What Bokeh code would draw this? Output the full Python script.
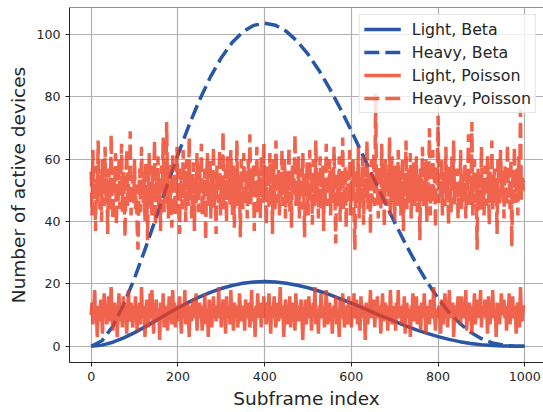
from bokeh.plotting import figure
from bokeh.models import Range1d, FixedTicker, Span, Legend, LegendItem
from bokeh.embed import file_html
from bokeh.resources import INLINE

# ---------------- data ----------------
subframe_beta = list(range(0, 1001, 25))
light_beta = [0.0, 0.35, 1.29, 2.67, 4.37, 6.28, 8.29, 10.32, 12.29, 14.14,
              15.82, 17.29, 18.52, 19.49, 20.19, 20.60, 20.74, 20.60, 20.21, 19.59,
              18.75, 17.72, 16.54, 15.23, 13.82, 12.36, 10.87, 9.38, 7.94, 6.56,
              5.27, 4.11, 3.07, 2.19, 1.46, 0.90, 0.49, 0.22, 0.07, 0.01, 0.0]
heavy_beta = [0.0, 1.74, 6.43, 13.36, 21.87, 31.40, 41.45, 51.59, 61.44, 70.70,
              79.10, 86.46, 92.61, 97.46, 100.93, 103.00, 103.68, 103.01, 101.07, 97.95,
              93.75, 88.62, 82.70, 76.14, 69.12, 61.80, 54.34, 46.92, 39.69, 32.80,
              26.37, 20.53, 15.36, 10.94, 7.32, 4.49, 2.43, 1.08, 0.34, 0.04, 0.0]

light_poisson = [
    10, 14, 7, 12, 18, 9, 11, 3, 13, 10, 8, 15, 11, 4, 12, 17, 9, 13, 7, 10, 16, 8, 12, 19, 10,
    5, 11, 14, 9, 13, 3, 10, 17, 8, 12, 11, 6, 16, 10, 13, 9, 4, 12, 18, 8, 11, 14, 10, 6, 13,
    9, 16, 11, 5, 12, 10, 14, 7, 19, 11, 9, 13, 3, 10, 15, 12, 6, 11, 17, 9, 18, 10, 4, 13, 11,
    15, 8, 12, 10, 2, 14, 11, 9, 17, 6, 12, 10, 13, 5, 11, 16, 9, 12, 7, 18, 10, 14, 6, 11, 13,
    8, 12, 16, 10, 4, 13, 9, 11, 18, 7, 12, 14, 10, 3, 13, 11, 8, 15, 12, 9, 10, 17, 5, 12, 11,
    14, 9, 11, 5, 13, 10, 17, 7, 12, 11, 3, 15, 10, 13, 6, 12, 16, 9, 11, 8, 13, 10, 19, 9, 12,
    6, 11, 15, 10, 12, 4, 16, 9, 11, 13, 7, 18, 10, 12, 5, 14, 11, 9, 13, 6, 10, 17, 12, 8, 11,
    13, 10, 5, 15, 11, 9, 14, 12, 6, 10, 18, 8, 12, 11, 3, 13, 10, 17, 9, 12, 14, 6, 11, 10, 16,
    9, 12, 7, 14, 11, 17, 10, 4, 13, 9, 12, 16, 10, 6, 14, 11, 8, 12, 19, 9, 11, 13, 3, 10, 15,
    11, 7, 13, 10, 16, 6, 12, 9, 14, 11, 5, 17, 10, 12, 8, 13, 11, 15, 9, 2, 12, 10, 15, 7, 13,
    10, 16, 9, 12, 5, 11, 14, 10, 19, 7, 12, 11, 4, 13, 10, 17, 9, 11, 13, 6, 12, 18, 10, 7, 11,
    14, 9, 12, 4, 11, 13, 10, 16, 7, 12, 10, 3, 15, 11, 9, 17, 12, 6, 10, 13, 11, 7, 16, 10, 12,
    6, 13, 10, 17, 9, 11, 15, 7, 12, 10, 5, 16, 11, 13, 9, 12, 2, 14, 10, 7, 13, 11, 18, 9, 12,
    10, 15, 6, 12, 11, 16, 9, 13, 10, 4, 12, 17, 8, 11, 14, 10, 13, 5, 12, 9, 18, 11, 7, 13, 10,
    12, 5, 14, 10, 18, 9, 11, 13, 7, 12, 10, 16, 4, 11, 14, 9, 12, 10, 3, 13, 11, 17, 8, 12, 10,
    16, 7, 11, 13, 10, 5, 14, 12, 9, 17, 11, 4, 13, 10, 12, 7, 15, 11, 9, 13, 19, 10, 5, 12, 11,
    9, 13, 10, 4, 15, 11, 7, 12, 17, 10, 13, 6, 11, 18, 9, 12, 10, 14, 3, 11, 13, 8, 12, 16, 10,
    12, 7, 16, 11, 9, 13, 10, 18, 5, 12, 11, 14, 8, 10, 4, 13, 12, 17, 7, 11, 10, 15, 9, 12, 18,
    6, 11, 13, 10, 15, 9, 12, 4, 16, 11, 7, 13, 10, 18, 9, 12, 11, 3, 14, 10, 13, 7, 12, 17, 11,
    10, 15, 9, 12, 5, 13, 11, 17, 7, 12, 10, 16, 9, 11, 13, 4, 12, 14, 10, 6, 19, 11, 8, 13, 12]
heavy_poisson = [
    56, 42, 63, 49, 53, 37, 58, 46, 66, 51, 44, 55, 40, 60, 50, 45, 64, 48, 54, 36, 57, 52, 44, 68, 49,
    41, 55, 50, 62, 39, 53, 46, 60, 44, 51, 65, 43, 56, 49, 35, 54, 63, 45, 52, 48, 69, 42, 55, 50, 46,
    60, 44, 52, 38, 31, 49, 57, 43, 64, 51, 46, 56, 40, 59, 50, 34, 53, 62, 45, 52, 42, 58, 49, 66, 39,
    54, 47, 61, 44, 52, 37, 58, 50, 67, 43, 55, 46, 72, 51, 41, 59, 45, 53, 38, 62, 49, 56, 42, 51, 64,
    46, 53, 36, 57, 50, 44, 63, 48, 54, 40, 60, 51, 45, 67, 49, 55, 41, 52, 59, 37, 54, 46, 62, 50, 43,
    58, 49, 65, 42, 52, 47, 57, 34, 53, 62, 45, 51, 60, 41, 55, 49, 64, 44, 52, 36, 58, 50, 46, 63, 42,
    53, 47, 69, 44, 51, 57, 40, 61, 49, 54, 45, 63, 50, 42, 58, 38, 53, 47, 66, 45, 55, 51, 35, 60, 49,
    44, 62, 52, 46, 56, 41, 60, 50, 68, 45, 53, 48, 58, 37, 54, 47, 64, 43, 52, 57, 41, 61, 50, 46, 65,
    47, 54, 39, 58, 51, 44, 62, 49, 55, 36, 60, 52, 44, 66, 50, 46, 57, 42, 53, 48, 63, 45, 52, 60, 41,
    56, 50, 46, 64, 43, 53, 38, 58, 49, 54, 68, 45, 52, 47, 61, 41, 57, 50, 44, 62, 51, 35, 55, 48, 59,
    42, 52, 63, 46, 54, 39, 60, 50, 45, 66, 49, 56, 41, 52, 61, 44, 51, 58, 37, 54, 47, 65, 45, 53, 50,
    60, 42, 51, 57, 46, 64, 49, 33, 55, 50, 45, 61, 40, 53, 47, 67, 44, 52, 58, 38, 56, 50, 46, 63, 42,
    53, 48, 60, 44, 31, 51, 57, 46, 64, 41, 54, 50, 45, 61, 39, 52, 58, 47, 66, 44, 51, 56, 36, 60, 46,
    52, 62, 45, 81, 49, 55, 41, 58, 50, 44, 65, 47, 53, 38, 60, 51, 45, 56, 48, 67, 42, 52, 61, 46, 54,
    40, 58, 50, 45, 63, 47, 56, 42, 52, 60, 37, 54, 48, 66, 44, 51, 57, 46, 62, 41, 53, 50, 59, 45, 52,
    61, 43, 51, 55, 34, 57, 48, 64, 45, 53, 47, 60, 40, 56, 50, 70, 42, 52, 46, 63, 49, 55, 38, 58, 51,
    74, 46, 53, 48, 60, 42, 56, 50, 45, 64, 47, 54, 39, 58, 51, 43, 61, 50, 66, 45, 53, 47, 57, 41, 52,
    48, 63, 44, 55, 51, 46, 59, 41, 56, 50, 68, 45, 52, 47, 72, 42, 53, 60, 46, 51, 31, 57, 48, 54, 43,
    64, 47, 53, 42, 58, 50, 45, 61, 52, 39, 56, 48, 66, 44, 51, 57, 46, 54, 36, 60, 50, 45, 63, 53, 47,
    56, 41, 58, 50, 45, 65, 48, 53, 44, 60, 32, 54, 47, 64, 46, 52, 57, 42, 61, 51, 76, 47, 55, 50, 53]
subframe_light = list(range(0, 2 * len(light_poisson), 2))
subframe_heavy = list(range(0, 2 * len(heavy_poisson), 2))

x_ticks = [0, 200, 400, 600, 800, 1000]
y_ticks = [0, 20, 40, 60, 80, 100]
series_labels = ["Light, Beta", "Heavy, Beta", "Light, Poisson", "Heavy, Poisson"]

# ---------------- style ----------------
BLUE = "#2a56a6"
RED = "#ec3d22"
TXT = "#262626"
FONT = "DejaVu Sans"
Y_START, Y_END = -5.23, 108.73

p = figure(width=543, height=412, output_backend="svg", toolbar_location=None,
           x_range=Range1d(-50.05, 1043.1), y_range=Range1d(Y_START, Y_END),
           min_border_left=69, min_border_right=0, min_border_top=7, min_border_bottom=50)
p.outline_line_color = None
p.background_fill_color = "white"

r1 = p.line(subframe_beta, light_beta, line_color=BLUE, line_width=3.5)
r2 = p.line(subframe_beta, heavy_beta, line_color=BLUE, line_width=3.5, line_dash="15 6")
r3 = p.line(subframe_light, light_poisson, line_color=RED, line_alpha=0.8, line_width=3.5)
r4 = p.line(subframe_heavy, heavy_poisson, line_color=RED, line_alpha=0.8, line_width=3.5,
            line_dash="15 6")

p.add_layout(Span(location=Y_END, dimension="width", line_color=TXT, line_width=1))

for ax, ticks in ((p.xaxis, x_ticks), (p.yaxis, y_ticks)):
    ax.ticker = FixedTicker(ticks=ticks)
    ax.minor_tick_line_color = None
    ax.major_tick_in = 0
    ax.major_tick_out = 4
    ax.major_tick_line_color = TXT
    ax.axis_line_color = TXT
    ax.major_label_text_font = FONT
    ax.major_label_text_font_size = "12.6px"
    ax.major_label_text_color = TXT
    ax.major_label_standoff = 5
    ax.axis_label_text_font = FONT
    ax.axis_label_text_font_size = "18.5px"
    ax.axis_label_text_font_style = "normal"
    ax.axis_label_text_color = TXT

p.xaxis.axis_label = "Subframe index"
p.yaxis.axis_label = "Number of active devices"
p.xaxis.axis_label_standoff = 4
p.yaxis.axis_label_standoff = 4

p.xgrid.ticker = FixedTicker(ticks=x_ticks)
p.ygrid.ticker = FixedTicker(ticks=y_ticks)
for g in (p.xgrid, p.ygrid):
    g.grid_line_color = "#b0b0b0"
    g.grid_line_width = 1.2

legend = Legend(items=[LegendItem(label=lab, renderers=[r])
                       for lab, r in zip(series_labels, [r1, r2, r3, r4])],
                location="top_right")
legend.label_text_font = FONT
legend.label_text_font_size = "15.8px"
legend.label_text_color = TXT
legend.glyph_width = 37
legend.glyph_height = 20
legend.label_height = 20
legend.label_standoff = 11
legend.spacing = 3
legend.padding = 4
legend.margin = 7
legend.border_line_color = "#cccccc"
legend.border_line_width = 1
legend.background_fill_alpha = 0.8
p.add_layout(legend)

open("out.html", "w").write(file_html(p, INLINE))
